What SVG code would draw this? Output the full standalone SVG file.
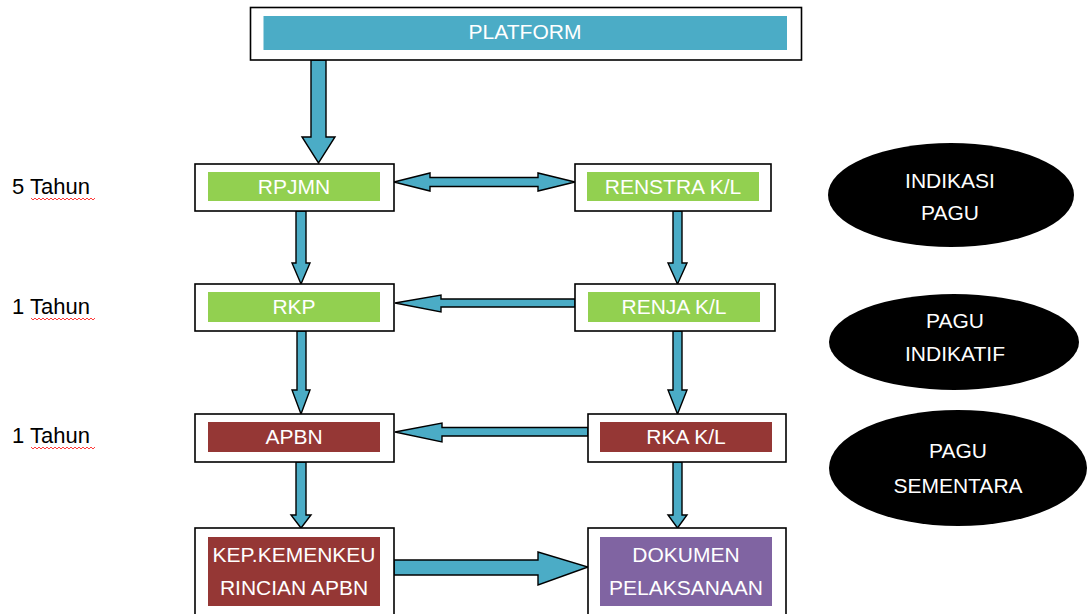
<svg xmlns="http://www.w3.org/2000/svg" width="1088" height="614" viewBox="0 0 1088 614">
<style>
.box{fill:#ffffff;stroke:#000000;stroke-width:1.6}
.teal{fill:#4BACC6}
.green{fill:#92D050}
.red{fill:#953735}
.purple{fill:#8064A2}
.arr{fill:#4BACC6;stroke:#000000;stroke-width:1.4;stroke-linejoin:miter}
.lbl{font-family:"Liberation Sans",Arial,sans-serif;font-size:21px;fill:#ffffff;text-anchor:middle}
.side{font-family:"Liberation Sans",Arial,sans-serif;font-size:22px;fill:#000000}
.wave{fill:none;stroke:#ff3b3b;stroke-width:1}
.ell{fill:#000000}
</style>
<rect width="1088" height="614" fill="#ffffff"/>

<g id="connectors">
<polygon class="arr" points="311,60 326,60 326,137 335,137 318.5,163 302,137 311,137"/>
<polygon class="arr" points="394,182 430,173 430,177.5 538,177.5 538,173 575,182 538,191 538,186.5 430,186.5 430,191"/>
<polygon class="arr" points="296,211 306,211 306,263 310,263 301,284 292,263 296,263"/>
<polygon class="arr" points="673,211 682,211 682,263 687,263 677.5,284 668,263 673,263"/>
<polygon class="arr" points="575,299 441,299 441,295 395,303 441,312 441,307 575,307"/>
<polygon class="arr" points="297,331 306,331 306,390 310,390 301,414 292,390 297,390"/>
<polygon class="arr" points="673,331 682,331 682,390 687,390 677.5,414 668,390 673,390"/>
<polygon class="arr" points="588,427.5 442,427.5 442,423 395,432 442,442 442,436 588,436"/>
<polygon class="arr" points="296,462 306,462 306,515 311,515 301,528 291,515 296,515"/>
<polygon class="arr" points="673,462 682,462 682,515 687,515 677.5,528 668,515 673,515"/>
<polygon class="arr" points="394,560 538,560 538,552 588,567 538,585 538,575 394,575"/>
</g>

<g id="platform">
<rect class="box" x="250.5" y="7.5" width="551" height="52.5"/>
<rect class="teal" x="263.5" y="16" width="523.5" height="34"/>
<text class="lbl" x="525" y="39">PLATFORM</text>
</g>

<g id="rpjmn">
<rect class="box" x="195" y="164" width="199" height="47"/>
<rect class="green" x="208" y="172" width="172" height="29"/>
<text class="lbl" x="294" y="194">RPJMN</text>
</g>

<g id="renstra">
<rect class="box" x="575" y="164" width="196" height="47"/>
<rect class="green" x="587" y="172" width="172" height="29"/>
<text class="lbl" x="673" y="194">RENSTRA K/L</text>
</g>

<g id="rkp">
<rect class="box" x="195" y="284" width="199" height="47"/>
<rect class="green" x="208" y="292" width="172" height="30"/>
<text class="lbl" x="294" y="314">RKP</text>
</g>

<g id="renja">
<rect class="box" x="575" y="284" width="200" height="47"/>
<rect class="green" x="588" y="292" width="172" height="30"/>
<text class="lbl" x="674" y="314">RENJA K/L</text>
</g>

<g id="apbn">
<rect class="box" x="195" y="414" width="199" height="48"/>
<rect class="red" x="208" y="422" width="172" height="30"/>
<text class="lbl" x="294" y="444">APBN</text>
</g>

<g id="rka">
<rect class="box" x="588" y="414" width="198" height="48"/>
<rect class="red" x="600" y="422" width="172" height="30"/>
<text class="lbl" x="686" y="444">RKA K/L</text>
</g>

<g id="kepmenkeu">
<rect class="box" x="195" y="528" width="199" height="95"/>
<rect class="red" x="208" y="537" width="172" height="69"/>
<text class="lbl" x="294" y="562">KEP.KEMENKEU</text>
<text class="lbl" x="294" y="595">RINCIAN APBN</text>
</g>

<g id="dokumen">
<rect class="box" x="588" y="528" width="198" height="95"/>
<rect class="purple" x="600" y="537" width="172" height="69"/>
<text class="lbl" x="686" y="562">DOKUMEN</text>
<text class="lbl" x="686" y="595">PELAKSANAAN</text>
</g>

<g id="label-5tahun">
<text class="side" x="12" y="194">5 Tahun</text>
<path class="wave" d="M31,198 l2,2 l2,-2 l2,2 l2,-2 l2,2 l2,-2 l2,2 l2,-2 l2,2 l2,-2 l2,2 l2,-2 l2,2 l2,-2 l2,2 l2,-2 l2,2 l2,-2 l2,2 l2,-2 l2,2 l2,-2 l2,2 l2,-2 l2,2 l2,-2 l2,2 l2,-2 l2,2 l2,-2 l2,2 l2,-2"/>
</g>
<g id="label-1tahun-a">
<text class="side" x="12" y="314">1 Tahun</text>
<path class="wave" d="M31,318 l2,2 l2,-2 l2,2 l2,-2 l2,2 l2,-2 l2,2 l2,-2 l2,2 l2,-2 l2,2 l2,-2 l2,2 l2,-2 l2,2 l2,-2 l2,2 l2,-2 l2,2 l2,-2 l2,2 l2,-2 l2,2 l2,-2 l2,2 l2,-2 l2,2 l2,-2 l2,2 l2,-2 l2,2 l2,-2"/>
</g>
<g id="label-1tahun-b">
<text class="side" x="12" y="443">1 Tahun</text>
<path class="wave" d="M31,447 l2,2 l2,-2 l2,2 l2,-2 l2,2 l2,-2 l2,2 l2,-2 l2,2 l2,-2 l2,2 l2,-2 l2,2 l2,-2 l2,2 l2,-2 l2,2 l2,-2 l2,2 l2,-2 l2,2 l2,-2 l2,2 l2,-2 l2,2 l2,-2 l2,2 l2,-2 l2,2 l2,-2 l2,2 l2,-2"/>
</g>

<g id="indikasi-pagu">
<ellipse class="ell" cx="951" cy="195" rx="123" ry="52"/>
<text class="lbl" x="950" y="188">INDIKASI</text>
<text class="lbl" x="950" y="220">PAGU</text>
</g>
<g id="pagu-indikatif">
<ellipse class="ell" cx="954" cy="342" rx="125" ry="48"/>
<text class="lbl" x="955" y="328">PAGU</text>
<text class="lbl" x="955" y="361">INDIKATIF</text>
</g>
<g id="pagu-sementara">
<ellipse class="ell" cx="958" cy="468" rx="129" ry="58"/>
<text class="lbl" x="958" y="458">PAGU</text>
<text class="lbl" x="958" y="493">SEMENTARA</text>
</g>
</svg>
